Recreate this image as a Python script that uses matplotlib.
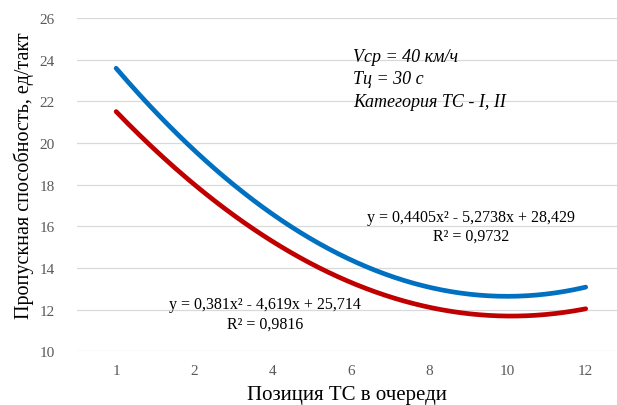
import numpy as np
import matplotlib
matplotlib.use("Agg")
import matplotlib.pyplot as plt

# ── Данные ────────────────────────────────────────────────────────────────────
categories = ["1", "2", "4", "6", "8", "10", "12"]
blue_vals = [23.6, 19.6, 16.6, 14.4, 13.1, 12.6, 13.1]
red_vals = [21.5, 18.0, 15.3, 13.3, 12.1, 11.7, 12.05]
blue_eq = "y = 0,4405x² - 5,2738x + 28,429\nR² = 0,9732"
red_eq = "y = 0,381x² - 4,619x + 25,714\nR² = 0,9816"
notes = ["Vср = 40 км/ч", "Tц = 30 с", "Категория ТС - I, II"]

COLOR_BLUE = "#0070C0"
COLOR_RED = "#C00000"
GRID = "#D9D9D9"

plt.rcParams["font.family"] = ["Liberation Serif", "DejaVu Serif"]

fig = plt.figure(figsize=(6.17, 4.06), dpi=100)
fig.patch.set_facecolor("white")
ax = fig.add_axes([0.1248, 0.132, 0.8752, 0.8215])

idx = np.arange(1, len(categories) + 1)
xs = np.linspace(1, len(categories), 200)

# полиномиальные линии тренда (2-я степень), как в Excel
for vals, color in [(blue_vals, COLOR_BLUE), (red_vals, COLOR_RED)]:
    coef = np.polyfit(idx, vals, 2)
    ax.plot(xs, np.polyval(coef, xs), color=color, lw=3.4,
            solid_capstyle="round", zorder=3)

ax.set_xlim(0.5, 7.4)
ax.set_ylim(10, 26)
ax.set_yticks(np.arange(10, 27, 2))
ax.set_xticks(idx)
ax.set_xticklabels(categories)
ax.grid(axis="y", color=GRID, lw=0.9)
ax.set_axisbelow(True)
for name, sp in ax.spines.items():
    sp.set_visible(False)
ax.tick_params(length=0, labelsize=11, labelcolor="#595959")
ax.tick_params(axis="y", pad=16)
ax.tick_params(axis="x", pad=9)

ax.set_xlabel("Позиция ТС в очереди", fontsize=15, labelpad=6)
ax.set_ylabel("Пропускная способность, ед/такт", fontsize=14.5, labelpad=4)
ax.yaxis.label.set_y(0.53)

# ── Подписи ───────────────────────────────────────────────────────────────────
for i, s in enumerate(notes):
    ax.text(4.03, 24.17 - 1.1 * i, s, fontsize=13, style="italic",
            ha="left", va="center")

ax.text(5.54, 16.0, blue_eq, fontsize=11.5, ha="center", va="center",
        linespacing=1.25)
ax.text(2.9, 11.8, red_eq, fontsize=11.5, ha="center", va="center",
        linespacing=1.25)

plt.savefig("out.png", dpi=100, facecolor="white")
